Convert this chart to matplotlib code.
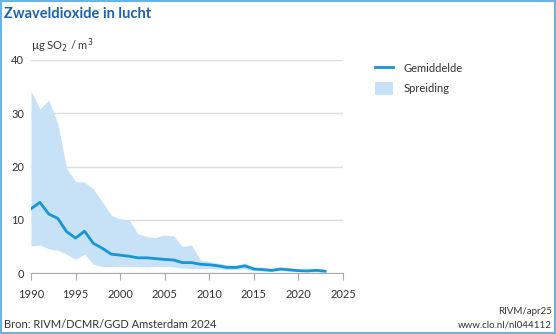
import numpy as np
import matplotlib.pyplot as plt
from matplotlib.patches import Rectangle
from matplotlib.lines import Line2D
from matplotlib.patches import Patch

plt.rcParams['font.family'] = ['Lato', 'DejaVu Sans']

# SO2 concentrations (ug/m3), mean and spread over measuring stations
years = list(range(1990, 2024))
mean = [12.1, 13.3, 11.1, 10.3, 7.8, 6.6, 7.9, 5.6, 4.7, 3.6,
        3.4, 3.2, 2.9, 2.9, 2.75, 2.6, 2.5, 2.0, 2.0, 1.7,
        1.6, 1.4, 1.1, 1.1, 1.4, 0.8, 0.7, 0.55, 0.8, 0.65,
        0.5, 0.45, 0.55, 0.4]
low = [5.1, 5.3, 4.6, 4.3, 3.6, 2.6, 3.6, 1.7, 1.25, 1.25,
       1.3, 1.3, 1.3, 1.2, 1.3, 1.3, 1.2, 1.0, 0.9, 0.9,
       0.9, 0.8, 0.7, 0.7, 0.8, 0.5, 0.4, 0.3, 0.5, 0.4,
       0.3, 0.25, 0.3, 0.2]
high = [34.2, 30.8, 32.5, 28.1, 19.7, 17.2, 17.1, 15.8, 13.4, 10.9,
        10.2, 10.0, 7.4, 6.9, 6.7, 7.2, 7.0, 5.0, 5.3, 2.5,
        2.2, 1.9, 1.6, 1.5, 1.9, 1.2, 1.1, 0.9, 1.1, 1.0,
        0.8, 0.75, 0.85, 0.7]

xticks = [1990, 1995, 2000, 2005, 2010, 2015, 2020, 2025]
yticks = [0, 10, 20, 30, 40]

line_col = '#1596d6'
band_col = '#c7e1f6'
title_col = '#1b63ad'
text_col = '#333333'

fig = plt.figure(figsize=(5.56, 3.34), dpi=100)
ax = fig.add_axes([31 / 556, 60.7 / 334, 312 / 556, 213.3 / 334])

ax.fill_between(years, low, high, color=band_col, linewidth=0)
ax.plot(years, mean, color=line_col, linewidth=2)

ax.set_xlim(1990, 2025)
ax.set_ylim(0, 40)
ax.set_xticks(xticks)
ax.set_yticks(yticks)
ax.yaxis.grid(True, color='#dddddd', linewidth=1)
ax.set_axisbelow(True)
for s in ['top', 'right', 'left']:
    ax.spines[s].set_visible(False)
ax.spines['bottom'].set_color('#aaaaaa')
ax.tick_params(axis='x', length=5, color='#aaaaaa', labelsize=8,
               labelcolor=text_col, pad=6)
ax.tick_params(axis='y', length=0, labelsize=8, labelcolor=text_col, pad=5)

# unit label above the y axis
fig.text(31 / 556, 1 - 46 / 334, r'µg SO$_2$ / m$^3$', fontsize=8,
         color=text_col, va='center', ha='left')

fig.text(4 / 556, 1 - 14 / 334, 'Zwaveldioxide in lucht', fontsize=10.5,
         fontweight='bold', color=title_col, va='center', ha='left')

# legend
handles = [Line2D([0], [0], color=line_col, linewidth=2),
           Patch(facecolor=band_col, edgecolor='none')]
fig.legend(handles, ['Gemiddelde', 'Spreiding'], loc='upper left',
           bbox_to_anchor=(365 / 556, 1 - 52 / 334), frameon=False,
           fontsize=8, labelcolor=text_col, handlelength=1.6,
           handleheight=1.5, labelspacing=0.55, handletextpad=1.0)

fig.text(4 / 556, 1 - 324 / 334, 'Bron: RIVM/DCMR/GGD Amsterdam 2024',
         fontsize=8, color=text_col, va='center', ha='left')
fig.text(552 / 556, 1 - 312 / 334, 'RIVM/apr25', fontsize=7,
         color=text_col, va='center', ha='right')
fig.text(552 / 556, 1 - 325 / 334, 'www.clo.nl/nl044112', fontsize=7,
         color=text_col, va='center', ha='right')

# frame around the whole figure
fig.patches.append(Rectangle((0.001, 0.002), 0.997, 0.995, transform=fig.transFigure,
                             fill=False, edgecolor='#6ab4e2', linewidth=1.5))

fig.savefig('out.png', dpi=100)
